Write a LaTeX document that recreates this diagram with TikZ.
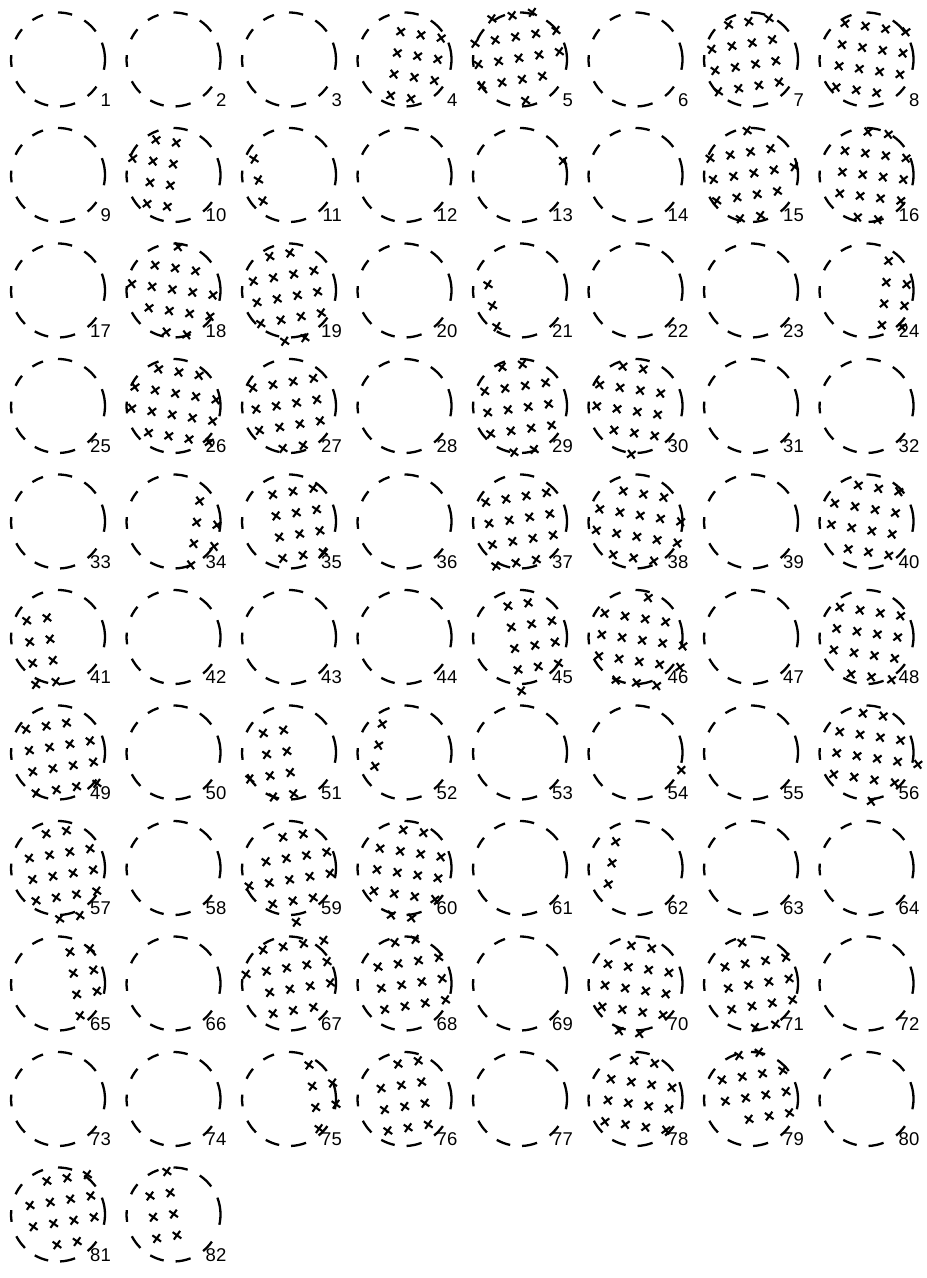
\documentclass[tikz,border=0pt]{standalone}
\usepackage{fontspec}
\setmainfont{Liberation Sans}
\begin{document}
\begin{tikzpicture}[x=1pt,y=1pt]
\useasboundingbox (0,0) rectangle (927,1278);
\tikzset{ring/.style={line width=2.3pt},
  xm/.style={line width=2.1pt},
  lab/.style={anchor=base east, inner sep=0pt, font=\fontsize{18.5}{18.5}\selectfont}}
\newcommand\dcirc[3]{%
  \pgfmathsetmacro\cx{58+115.5*#1}%
  \pgfmathsetmacro\cy{1218.5-115.5*#2}%
  \foreach \a/\b in {-12.6/21,36.6/56,72.5/90,108.6/123,140/154.5,174.6/189,207.6/225.4,240.4/257.9,272.5/291.3,309/324.8}
    {\draw[ring] (\cx,\cy) ++(\a:47) arc[start angle=\a, end angle=\b, radius=47];}
  \node[lab] (L#3) at (\cx+53,\cy-47) {#3};
}
\newcommand\xmarks[6]{%
  \pgfmathsetmacro\mx{58+115.5*#1+(#4)}%
  \pgfmathsetmacro\my{1218.5-115.5*#2+(#5)}%
  \begin{scope}[shift={(\mx,\my)},rotate=#3]
  \foreach \i/\j in {#6}
    {\draw[xm] ({20.5*\i-3.8},{-21.5*\j-3.8}) -- ++(7.6,7.6) ({20.5*\i-3.8},{-21.5*\j+3.8}) -- ++(7.6,-7.6);}
  \end{scope}}
\foreach \n in {1,...,82}{
  \pgfmathtruncatemacro\cc{mod(\n-1,8)}
  \pgfmathtruncatemacro\rr{div(\n-1,8)}
  \dcirc{\cc}{\rr}{\n}
}
% 4
\xmarks{3}{0}{-9}{-3.8}{27.8}{0/0,1/0,2/0,0/1,1/1,2/1,0/2,1/2,2/2,0/3,1/3}
% 5
\xmarks{4}{0}{9}{-45}{16.2}{1/-1,2/-1,3/-1,0/0,1/0,2/0,3/0,4/0,0/1,1/1,2/1,3/1,4/1,0/2,1/2,2/2,3/2,2/3}
% 7
\xmarks{6}{0}{9}{-39.3}{10.2}{1/-1,2/-1,3/-1,0/0,1/0,2/0,3/0,0/1,1/1,2/1,3/1,0/2,1/2,2/2,3/2}
% 8
\xmarks{7}{0}{-8}{-21.5}{36.2}{0/0,1/0,2/0,3/0,0/1,1/1,2/1,3/1,0/2,1/2,2/2,3/2,0/3,1/3,2/3}
% 10
\xmarks{1}{1}{-8}{-40.8}{16.7}{1/-1,2/-1,0/0,1/0,2/0,1/1,2/1,1/2,2/2}
% 11
\xmarks{2}{1}{12}{-35}{16}{0/0,0/1,0/2}
% 13
\xmarks{4}{1}{0}{43}{14}{0/0}
% 15
\xmarks{6}{1}{9}{-41}{16.7}{2/-1,0/0,1/0,2/0,3/0,0/1,1/1,2/1,3/1,4/1,0/2,1/2,2/2,3/2,1/3,2/3}
% 16
\xmarks{7}{1}{-7}{-21.5}{24.3}{1/-1,2/-1,0/0,1/0,2/0,3/0,0/1,1/1,2/1,3/1,0/2,1/2,2/2,3/2,1/3,2/3}
% 18
\xmarks{1}{2}{-8}{-41.8}{6.8}{2/-2,1/-1,2/-1,3/-1,0/0,1/0,2/0,3/0,4/0,1/1,2/1,3/1,4/1,2/2,3/2}
% 19
\xmarks{2}{2}{10}{-35.7}{9.2}{1/-1,2/-1,0/0,1/0,2/0,3/0,0/1,1/1,2/1,3/1,0/2,1/2,2/2,3/2,1/3,2/3}
% 21
\xmarks{4}{2}{12}{-32}{5.8}{0/0,0/1,0/2}
% 24
\xmarks{7}{2}{-6}{19.8}{8.2}{0/-1,0/0,1/0,0/1,1/1,0/2,1/2}
% 26
\xmarks{1}{3}{-9}{-38.5}{19}{1/-1,2/-1,3/-1,0/0,1/0,2/0,3/0,4/0,0/1,1/1,2/1,3/1,4/1,1/2,2/2,3/2,4/2}
% 27
\xmarks{2}{3}{9}{-36.3}{18}{0/0,1/0,2/0,3/0,0/1,1/1,2/1,3/1,0/2,1/2,2/2,3/2,1/3,2/3}
% 29
\xmarks{4}{3}{8}{-35.3}{14.7}{1/-1,2/-1,0/0,1/0,2/0,3/0,0/1,1/1,2/1,3/1,0/2,1/2,2/2,3/2,1/3,2/3}
% 30
\xmarks{5}{3}{-8}{-35.8}{21.3}{1/-1,2/-1,0/0,1/0,2/0,3/0,0/1,1/1,2/1,3/1,1/2,2/2,3/2,2/3}
% 34
\xmarks{1}{4}{-8}{23.2}{-0.8}{0/-1,0/0,1/0,0/1,1/1,0/2}
% 35
\xmarks{2}{4}{9}{-16.3}{26.8}{0/0,1/0,2/0,0/1,1/1,2/1,0/2,1/2,2/2,0/3,1/3,2/3}
% 37
\xmarks{4}{4}{9}{-34.3}{19.2}{0/0,1/0,2/0,3/0,0/1,1/1,2/1,3/1,0/2,1/2,2/2,3/2,0/3,1/3,2/3}
% 38
\xmarks{5}{4}{-9}{-35.8}{12.5}{1/-1,2/-1,3/-1,0/0,1/0,2/0,3/0,4/0,0/1,1/1,2/1,3/1,4/1,1/2,2/2,3/2}
% 40
\xmarks{7}{4}{-9}{-31.8}{18.2}{1/-1,2/-1,3/-1,0/0,1/0,2/0,3/0,0/1,1/1,2/1,3/1,1/2,2/2,3/2}
% 41
\xmarks{0}{5}{8}{-31.3}{16.3}{0/0,1/0,0/1,1/1,0/2,1/2,0/3,1/3}
% 45
\xmarks{4}{5}{9}{-8.7}{9.7}{0/-1,1/-1,0/0,1/0,2/0,0/1,1/1,2/1,0/2,1/2,2/2,0/3}
% 46
\xmarks{5}{5}{-8}{-30.8}{23.7}{2/-1,0/0,1/0,2/0,3/0,0/1,1/1,2/1,3/1,4/1,0/2,1/2,2/2,3/2,4/2,1/3,2/3,3/3}
% 48
\xmarks{7}{5}{-8}{-26.8}{29.7}{0/0,1/0,2/0,3/0,0/1,1/1,2/1,3/1,0/2,1/2,2/2,3/2,1/3,2/3,3/3}
% 49
\xmarks{0}{6}{9}{-32}{23.2}{0/0,1/0,2/0,0/1,1/1,2/1,3/1,0/2,1/2,2/2,3/2,0/3,1/3,2/3,3/3}
% 51
\xmarks{2}{6}{9}{-25.7}{19.2}{0/0,1/0,0/1,1/1,-1/2,0/2,1/2,0/3,1/3}
% 52
\xmarks{3}{6}{-10}{-22.2}{28.5}{0/0,0/1,0/2}
% 54
\xmarks{5}{6}{0}{45.8}{-17.5}{0/0}
% 56
\xmarks{7}{6}{-8}{-26.8}{20.8}{1/-1,2/-1,0/0,1/0,2/0,3/0,0/1,1/1,2/1,3/1,4/1,0/2,1/2,2/2,3/2,2/3}
% 57
\xmarks{0}{7}{9}{-28.7}{9.7}{1/-1,2/-1,0/0,1/0,2/0,3/0,0/1,1/1,2/1,3/1,0/2,1/2,2/2,3/2,1/3,2/3}
% 59
\xmarks{2}{7}{9}{-23}{6.3}{1/-1,2/-1,0/0,1/0,2/0,3/0,-1/1,0/1,1/1,2/1,3/1,0/2,1/2,2/2,1/3}
% 60
\xmarks{3}{7}{-8}{-24.5}{19.7}{1/-1,2/-1,0/0,1/0,2/0,3/0,0/1,1/1,2/1,3/1,0/2,1/2,2/2,3/2,1/3,2/3}
% 62
\xmarks{5}{7}{-10}{-19.8}{26.3}{0/0,0/1,0/2}
% 65
\xmarks{0}{8}{9}{12}{31.5}{0/0,1/0,0/1,1/1,0/2,1/2,0/3}
% 67
\xmarks{2}{8}{9}{-26}{33.5}{0/0,1/0,2/0,3/0,-1/1,0/1,1/1,2/1,3/1,0/2,1/2,2/2,3/2,0/3,1/3,2/3}
% 68
\xmarks{3}{8}{9}{-26.5}{16.5}{1/-1,2/-1,0/0,1/0,2/0,3/0,0/1,1/1,2/1,3/1,0/2,1/2,2/2,3/2}
% 70
\xmarks{5}{8}{-8}{-27.5}{19.5}{1/-1,2/-1,0/0,1/0,2/0,3/0,0/1,1/1,2/1,3/1,0/2,1/2,2/2,3/2,1/3,2/3}
% 71
\xmarks{6}{8}{9}{-26}{16.5}{1/-1,0/0,1/0,2/0,3/0,0/1,1/1,2/1,3/1,0/2,1/2,2/2,3/2,1/3,2/3}
% 75
\xmarks{2}{9}{9}{20}{34}{0/0,0/1,1/1,0/2,1/2,0/3}
% 76
\xmarks{3}{9}{9}{-6.5}{35}{0/0,1/0,-1/1,0/1,1/1,-1/2,0/2,1/2,-1/3,0/3,1/3}
% 78
\xmarks{5}{9}{-8}{-24.5}{20}{1/-1,2/-1,0/0,1/0,2/0,3/0,0/1,1/1,2/1,3/1,0/2,1/2,2/2,3/2}
% 79
\xmarks{6}{9}{9}{-29}{19}{1/-1,2/-1,0/0,1/0,2/0,3/0,0/1,1/1,2/1,3/1,1/2,2/2,3/2}
% 81
\xmarks{0}{10}{9}{-28}{9}{1/-1,2/-1,3/-1,0/0,1/0,2/0,3/0,0/1,1/1,2/1,3/1,1/2,2/2}
% 82
\xmarks{1}{10}{9}{-23.5}{18.5}{1/-1,0/0,1/0,0/1,1/1,0/2,1/2}
\end{tikzpicture}
\end{document}
